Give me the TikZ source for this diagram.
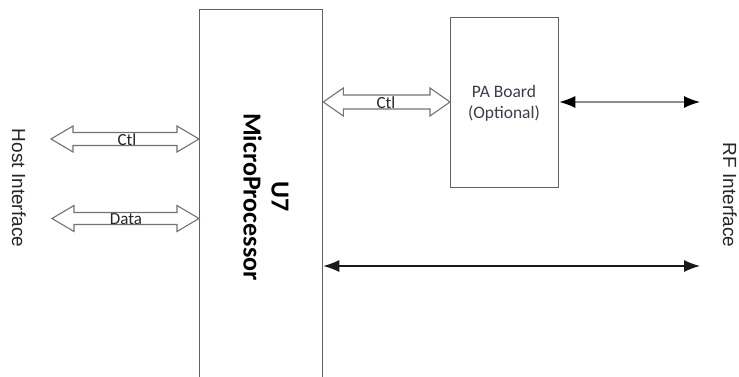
\documentclass[tikz,border=0pt]{standalone}
\usepackage{fontspec}
\setmainfont{Carlito}
\newfontfamily\arialf{Liberation Sans}
\usetikzlibrary{arrows.meta,calc}
\definecolor{patxt}{HTML}{3C3C50}
\tikzset{
  boxline/.style={draw=black!62, line width=1.3pt},
  hollow/.style={draw=black!55, line width=1.1pt, fill=white, line join=miter},
  lbl/.style={font=\fontsize{17}{20}\selectfont, text=black!85, inner sep=0pt},
  side/.style={font=\arialf\fontsize{19}{22}\selectfont, rotate=-90, text=black!85},
  grayarrow/.style={draw=black!45, line width=1.4pt, {Latex[black,length=16pt,width=12pt]}-{Latex[black,length=16pt,width=12pt]}},
  blackarrow/.style={draw=black!90, line width=1.1pt, {Latex[length=16pt,width=12pt]}-{Latex[length=16pt,width=12pt]}}
}
\newcommand\hollowdbl[5]{% from, to, head length, shaft half, head half
  \draw[hollow] let \p1=(#1), \p2=(#2) in
    (\x1,\y1) -- (\x1+#3,\y1+#5) -- (\x1+#3,\y1+#4) -- (\x2-#3,\y2+#4) -- (\x2-#3,\y2+#5)
    -- (\x2,\y2) -- (\x2-#3,\y2-#5) -- (\x2-#3,\y2-#4) -- (\x1+#3,\y1-#4) -- (\x1+#3,\y1-#5) -- cycle;
}
\begin{document}
\begin{tikzpicture}[x=1pt,y=-1pt]
\useasboundingbox[fill=white] (0,0) rectangle (739,377);
% blocks
\node[boxline, anchor=north west, minimum width=123pt, minimum height=390pt, inner sep=0pt] (mp) at (199,9) {};
\node[boxline, anchor=north west, minimum width=108pt, minimum height=170pt, inner sep=0pt] (pa) at (450,17) {};
\node[font=\bfseries\fontsize{26}{28}\selectfont, rotate=-90, align=center, inner sep=0pt] (mptext) at (266,197) {U7\\MicroProcessor};
\node[align=center, font=\fontsize{17.5}{21}\selectfont, text=patxt, inner sep=0pt] (patext) at (504,103) {PA Board\\(Optional)};
% side labels
\node[side] (host) at (19,188) {Host Interface};
\node[side] (rf) at (730,195) {RF Interface};
% free ends
\coordinate (hostctl) at (51,139);
\coordinate (hostdata) at (52,218.5);
\coordinate (ctlmid) at (386,102);
\coordinate (rfpa) at (700,102);
\coordinate (rfmain) at (700,266);
% hollow arrows
\hollowdbl{hostctl}{mp.west |- hostctl}{22pt}{6.5pt}{13pt}
\hollowdbl{hostdata}{mp.west |- hostdata}{22pt}{6pt}{13pt}
\hollowdbl{mp.east |- ctlmid}{pa.west |- ctlmid}{20pt}{7pt}{14pt}
\node[lbl] (l1) at (127,140) {Ctl};
\node[lbl] (l2) at (126,219.5) {Data};
\node[lbl] (l3) at (386,103) {Ctl};
% RF arrows
\draw[grayarrow] (pa.east |- rfpa) -- (rfpa);
\draw[blackarrow] (mp.east |- rfmain) -- (rfmain);
\end{tikzpicture}
\end{document}
